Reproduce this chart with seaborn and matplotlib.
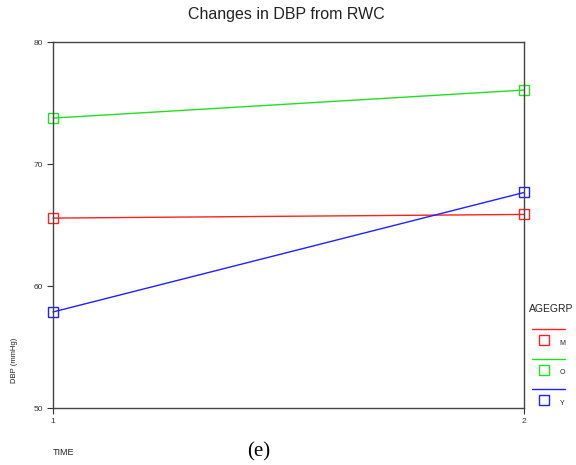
import matplotlib
matplotlib.use("Agg")
import matplotlib.pyplot as plt
import seaborn as sns
import pandas as pd
from matplotlib.lines import Line2D

times = [1, 2]
groups = ["M", "O", "Y"]
dbp_M = [65.6, 65.9]
dbp_O = [73.8, 76.1]
dbp_Y = [57.9, 67.7]
colors = {"M": "#ff2020", "O": "#20e020", "Y": "#2020ff"}
yticks = [50, 60, 70, 80]

rows = []
for g, vals in zip(groups, [dbp_M, dbp_O, dbp_Y]):
    for t, v in zip(times, vals):
        rows.append({"TIME": t, "DBP": v, "AGEGRP": g})
df = pd.DataFrame(rows)

sns.set_style("white")
plt.rcParams['font.family'] = ['Liberation Sans', 'DejaVu Sans']

fig = plt.figure(figsize=(5.76, 4.65), dpi=100)
ax = fig.add_axes([53/576, 1-408.3/465, (524-53)/576, (408.3-42.5)/465])

sns.lineplot(data=df, x="TIME", y="DBP", hue="AGEGRP", palette=colors,
             hue_order=groups, marker="s", markersize=7, linewidth=1,
             legend=False, ax=ax, clip_on=False)
for ln in ax.lines:
    c = ln.get_color()
    ln.set_markerfacecolor("none")
    ln.set_markeredgecolor(c)
    ln.set_markeredgewidth(1.0)
    ln.set_clip_on(False)

ax.set_xlim(1, 2)
ax.set_ylim(50, 80)
ax.set_xticks(times)
ax.set_xticklabels([str(t) for t in times])
ax.set_yticks(yticks)
ax.set_yticklabels([str(y) for y in yticks])
ax.tick_params(axis="both", labelsize=6, direction="out", length=4, width=0.8,
               colors="#333333", pad=3)
ax.tick_params(left=True, bottom=True, top=False, right=False)
for sp in ax.spines.values():
    sp.set_visible(True)
    sp.set_color("#444444")
    sp.set_linewidth(1.0)
ax.set_xlabel("")
ax.set_ylabel("")

fig.text(286/576, 1-15/465, "Changes in DBP from RWC", ha="center", va="center", fontsize=11.5, color="#222222")
fig.text(15/576, 1-360/465, "DBP (mmHg)", rotation=90, ha="center", va="center", fontsize=5.5, color="#222222")
fig.text(53/576, 1-452/465, "TIME", ha="left", va="center", fontsize=6.5, color="#222222")
fig.text(259/576, 1-452/465, "(e)", ha="center", va="center", fontsize=15, family=["Liberation Serif", "DejaVu Serif"], color="black")

# legend (SPSS style)
fig.text(551/576, 1-309/465, "AGEGRP", ha="center", va="center", fontsize=7.5, color="#222222")
for i, g in enumerate(groups):
    y_line = 329 + i * 30
    y_mark = 340 + i * 30
    fig.add_artist(Line2D([532/576, 565/576], [1-y_line/465, 1-y_line/465], color=colors[g], lw=1))
    fig.add_artist(Line2D([544/576], [1-y_mark/465], marker="s", markersize=7,
                          markerfacecolor="none", markeredgecolor=colors[g], markeredgewidth=1))
    fig.text(562/576, 1-(y_mark+3)/465, g, ha="center", va="center", fontsize=5, color="#222222")

fig.savefig("out.png", dpi=100)
